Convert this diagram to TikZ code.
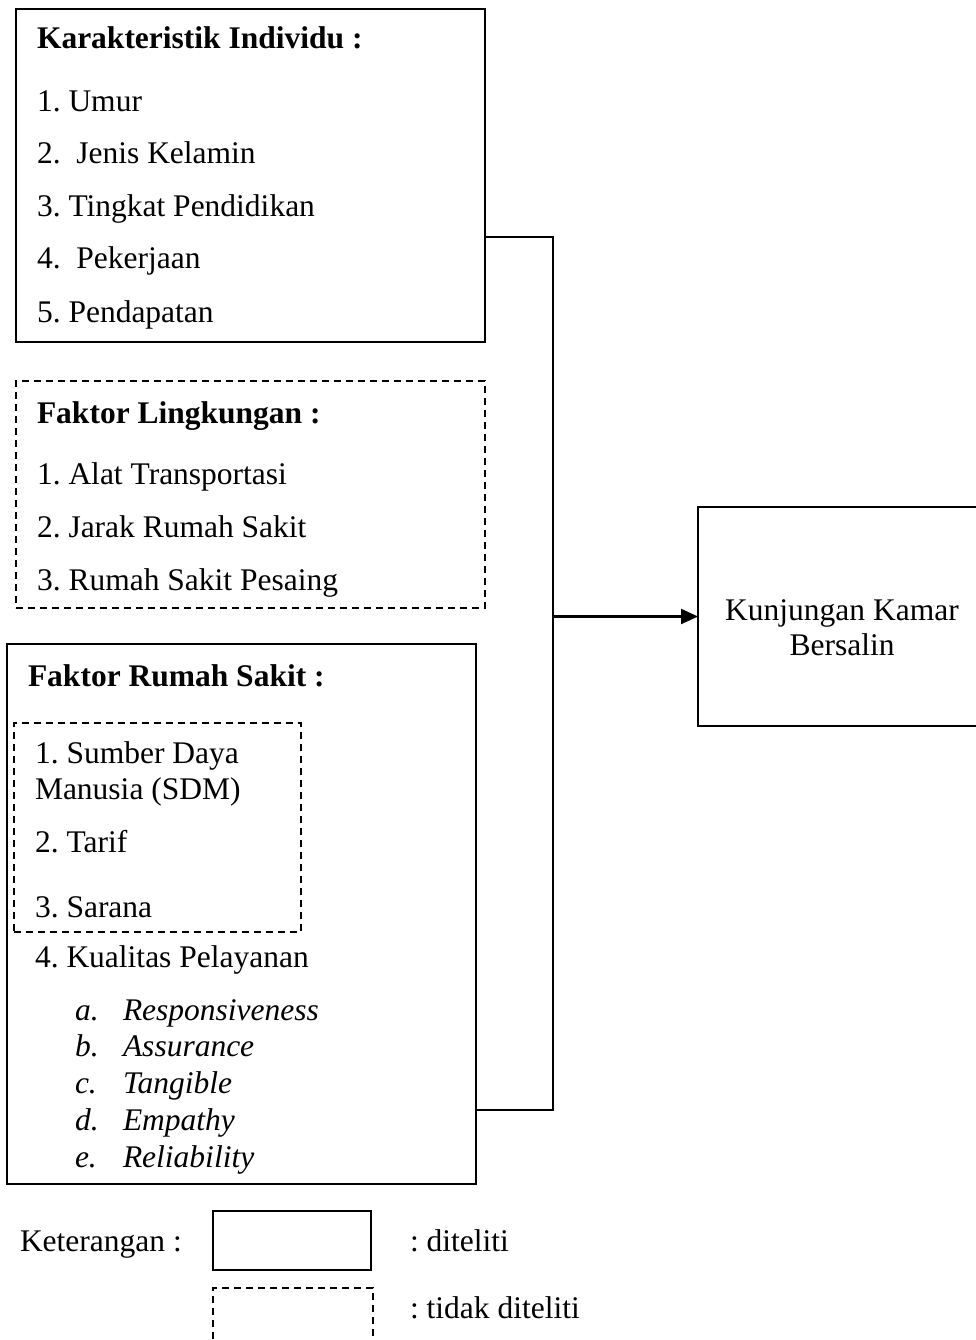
\documentclass[tikz,border=0pt]{standalone}
\usepackage{fontspec}
\setmainfont{Liberation Serif}
\usetikzlibrary{arrows.meta}
\frenchspacing
\begin{document}
\begin{tikzpicture}[x=1pt,y=-1pt,
  solidbox/.style={draw, line width=1.6pt, inner sep=0pt, outer sep=0pt, anchor=north west},
  dashbox/.style={solidbox, dash pattern=on 7pt off 5pt},
  txt/.style={anchor=base west, inner sep=0pt, outer sep=0pt, font=\fontsize{31.5}{35}\selectfont},
  btxt/.style={txt, font=\fontsize{31.5}{35}\selectfont\bfseries},
  itxt/.style={txt, font=\fontsize{31.5}{35}\selectfont\itshape},
  conn/.style={draw, line width=1.1pt},
  arr/.style={draw, line width=2.2pt, -{Triangle[length=17pt,width=15pt]}}]
\useasboundingbox (0,0) rectangle (976,1340);
% boxes
\node[solidbox, minimum width=469pt, minimum height=333pt] (b1) at (16,9) {};
\node[dashbox, minimum width=469pt, minimum height=227pt] (b2) at (16,381) {};
\node[solidbox, minimum width=469pt, minimum height=540pt] (b3) at (7,644) {};
\node[dashbox, minimum width=287pt, minimum height=209pt] (b3in) at (14,723) {};
\node[solidbox, minimum width=300pt, minimum height=219pt] (b4) at (698,507) {};
\node[solidbox, minimum width=158pt, minimum height=59pt] (leg1) at (213,1211) {};
\node[dashbox, minimum width=160pt, minimum height=80pt] (leg2) at (213,1288) {};
% box 1 text
\node[btxt] (t1) at (37,49) {Karakteristik Individu :};
\node[txt] (t11) at (37,112) {1. Umur};
\node[txt] (t12) at (37,164) {2.\ \ Jenis Kelamin};
\node[txt] (t13) at (37,217) {3. Tingkat Pendidikan};
\node[txt] (t14) at (37,269) {4.\ \ Pekerjaan};
\node[txt] (t15) at (37,322) {5. Pendapatan};
% box 2 text
\node[btxt] (t2) at (37,423) {Faktor Lingkungan :};
\node[txt] (t21) at (37,484) {1. Alat Transportasi};
\node[txt] (t22) at (37,537) {2. Jarak Rumah Sakit};
\node[txt] (t23) at (37,590) {3. Rumah Sakit Pesaing};
% box 3 text
\node[btxt] (t3) at (28,686) {Faktor Rumah Sakit :};
\node[txt] (t31) at (35,763) {1. Sumber Daya};
\node[txt] (t31b) at (35,799) {Manusia (SDM)};
\node[txt] (t32) at (35,852) {2. Tarif};
\node[txt] (t33) at (35,917) {3. Sarana};
\node[txt] (t34) at (35,967) {4. Kualitas Pelayanan};
\node[itxt] (la) at (75,1020) {a.};
\node[itxt] (ia) at (123,1020) {Responsiveness};
\node[itxt] (lb) at (75,1056) {b.};
\node[itxt] (ib) at (123,1056) {Assurance};
\node[itxt] (lc) at (75,1093) {c.};
\node[itxt] (ic) at (123,1093) {Tangible};
\node[itxt] (ld) at (75,1130) {d.};
\node[itxt] (id) at (123,1130) {Empathy};
\node[itxt] (le) at (75,1167) {e.};
\node[itxt] (ie) at (123,1167) {Reliability};
% box 4 text
\node[txt, anchor=center, align=center] (t4) at (842,628) {Kunjungan Kamar\\Bersalin};
% legend
\node[txt] (k) at (20,1251) {Keterangan :};
\node[txt] (k1) at (410,1251) {: diteliti};
\node[txt] (k2) at (410,1318) {: tidak diteliti};
% connectors
\coordinate (j1) at (553,237);
\coordinate (j2) at (553,1110);
\draw[conn] (b1.east |- j1) -- (j1) -- (j2) -- (b3.east |- j2);
\draw[arr] (b4.west -| j1) -- (b4.west);
\end{tikzpicture}
\end{document}
